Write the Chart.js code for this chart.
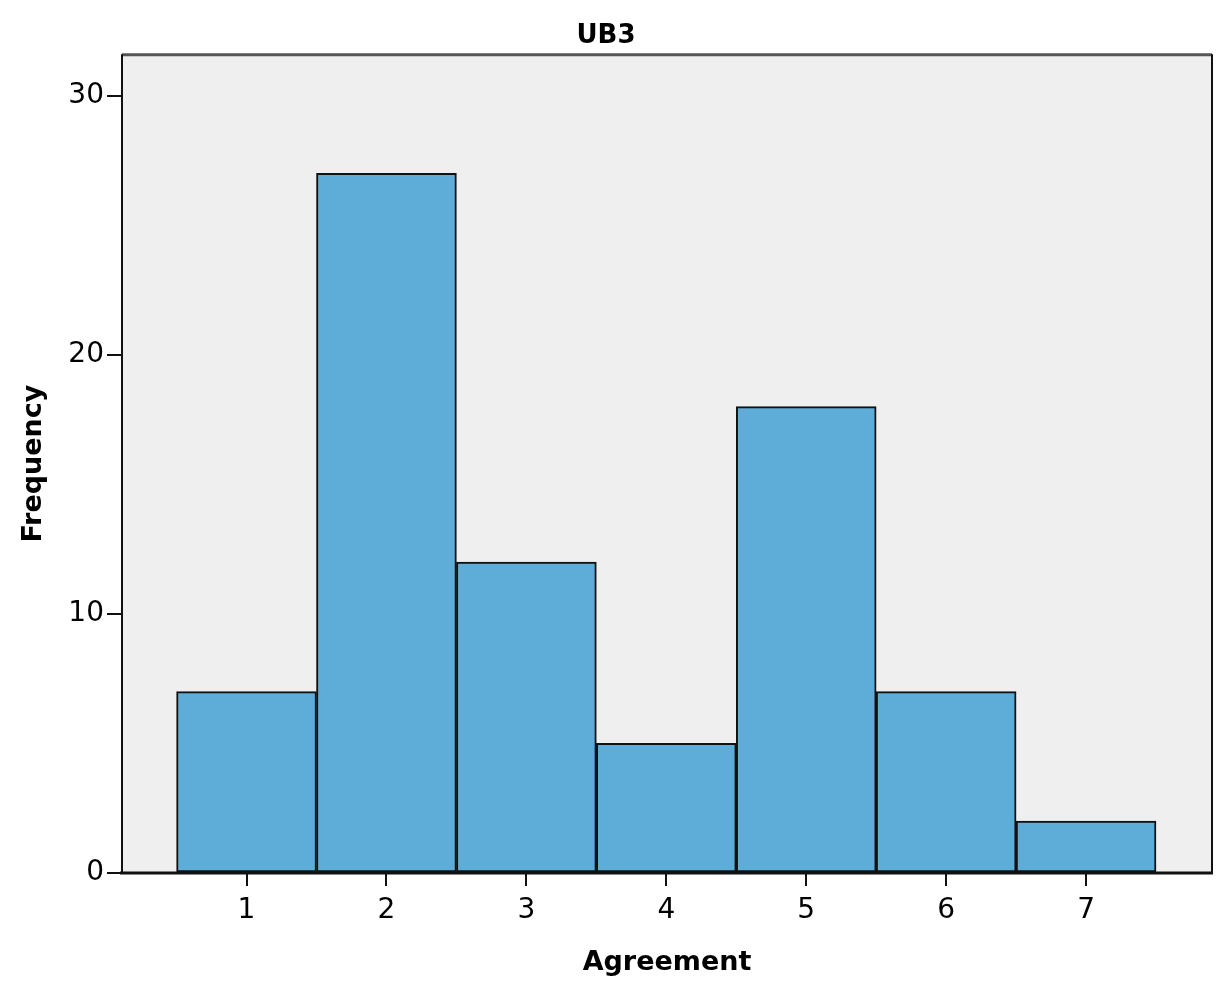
<!DOCTYPE html>
<html lang="en">
<head>
  <meta charset="UTF-8">
  <title>UB3</title>
  <script src="https://cdn.jsdelivr.net/npm/chart.js"></script>
  <style>
    html, body { margin: 0; padding: 0; background: #fff; }
    #wrap { width: 1232px; height: 1006px; position: relative; }
  </style>
</head>
<body>
  <div id="wrap"><canvas id="histCanvas"></canvas></div>
  <script>
    const agreementLevels = [1, 2, 3, 4, 5, 6, 7];
    const frequencies = [7, 27, 12, 5, 18, 7, 2];
    const yTickValues = [0, 10, 20, 30];

    const FONT = "'DejaVu Sans', sans-serif";

    // grey plot background + frame round the chart area
    const plotFrame = {
      id: 'plotFrame',
      beforeDatasetsDraw(chart) {
        const { ctx, chartArea: a } = chart;
        ctx.save();
        ctx.fillStyle = '#efefef';
        ctx.fillRect(a.left, a.top, a.right - a.left, a.bottom - a.top);
        ctx.restore();
      },
      afterDatasetsDraw(chart) {
        const { ctx, chartArea: a } = chart;
        ctx.save();
        ctx.strokeStyle = '#555';
        ctx.lineWidth = 3;
        ctx.beginPath();
        ctx.moveTo(a.left, a.top + 0.5);
        ctx.lineTo(a.right, a.top + 0.5);
        ctx.stroke();
        ctx.strokeStyle = '#111';
        ctx.lineWidth = 2;
        ctx.beginPath();
        ctx.moveTo(a.left, a.top);
        ctx.lineTo(a.left, a.bottom);
        ctx.moveTo(a.right, a.top);
        ctx.lineTo(a.right, a.bottom);
        ctx.stroke();
        ctx.lineWidth = 3;
        ctx.beginPath();
        ctx.moveTo(a.left - 2, a.bottom);
        ctx.lineTo(a.right + 1, a.bottom);
        ctx.stroke();
        ctx.restore();
      }
    };

    const canvas = document.getElementById('histCanvas');
    new Chart(canvas, {
      type: 'bar',
      data: {
        datasets: [{
          label: 'UB3',
          data: agreementLevels.map((x, i) => ({ x: x, y: frequencies[i] })),
          backgroundColor: '#5eacd8',
          borderColor: '#111',
          borderWidth: 2,
          borderSkipped: false,
          barPercentage: 1,
          categoryPercentage: 1
        }]
      },
      options: {
        responsive: true,
        maintainAspectRatio: false,
        animation: false,
        layout: { padding: { left: 0, right: 20, top: 0, bottom: 0 } },
        plugins: {
          legend: { display: false },
          tooltip: { enabled: false },
          title: {
            display: true,
            text: 'UB3',
            color: '#000',
            font: { family: FONT, size: 26, weight: 'bold' },
            padding: { top: 21, bottom: 2 }
          }
        },
        scales: {
          x: {
            type: 'linear',
            min: 0.11,
            max: 7.9,
            offset: false,
            border: { display: false },
            grid: {
              offset: false,
              drawOnChartArea: false,
              drawTicks: true,
              tickLength: 13,
              tickColor: '#111',
              lineWidth: 2
            },
            ticks: {
              stepSize: 1,
              autoSkip: false,
              maxRotation: 0,
              padding: 8,
              color: '#000',
              font: { family: FONT, size: 28 }
            },
            afterBuildTicks(scale) {
              scale.ticks = agreementLevels.map(v => ({ value: v }));
            },
            afterFit(scale) { scale.height = 133; },
            title: {
              display: true,
              text: 'Agreement',
              color: '#000',
              font: { family: FONT, size: 27, weight: 'bold' },
              padding: { top: 0, bottom: 27 }
            }
          },
          y: {
            min: 0,
            max: 31.6,
            border: { display: false },
            grid: {
              drawOnChartArea: false,
              drawTicks: true,
              tickLength: 15,
              tickColor: '#111',
              lineWidth: 2
            },
            ticks: {
              stepSize: 10,
              padding: 3,
              color: '#000',
              font: { family: FONT, size: 28 }
            },
            afterBuildTicks(scale) {
              scale.ticks = yTickValues.map(v => ({ value: v }));
            },
            afterFit(scale) { scale.width = 122; },
            title: {
              display: true,
              text: 'Frequency',
              color: '#000',
              font: { family: FONT, size: 27, weight: 'bold' },
              padding: { top: 18, bottom: 0 }
            }
          }
        }
      },
      plugins: [plotFrame]
    });
  </script>
</body>
</html>
